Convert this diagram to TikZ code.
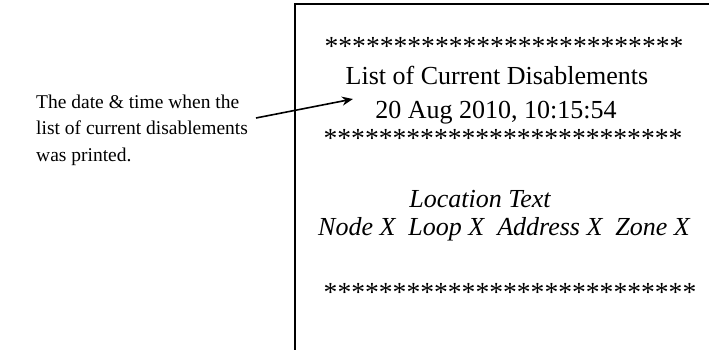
\documentclass[tikz,border=0pt]{standalone}
\usepackage{fontspec}
\setmainfont{Liberation Serif}
\usetikzlibrary{arrows.meta}
\tikzset{
  txt/.style={inner sep=0pt, anchor=base, font=\fontsize{26}{30}\selectfont},
  itxt/.style={txt, font=\fontsize{26}{30}\selectfont\itshape},
  stars/.style={inner sep=0pt, anchor=base, font=\fontsize{27.6}{30}\selectfont},
  note/.style={inner sep=0pt, anchor=base west, font=\fontsize{19.5}{22}\selectfont},
  frame/.style={line width=2.6pt, line cap=rect},
  pointer/.style={line width=1.6pt, -{Stealth[length=11pt,width=9pt]}}
}
\begin{document}
\begin{tikzpicture}[x=1pt,y=-1pt]
\useasboundingbox (0,0) rectangle (709,350);
% receipt edges
\coordinate (tl) at (295,4);
\coordinate (tr) at (712,4);
\coordinate (bl) at (295,352);
\draw[frame] (tr) -- (tl) -- (bl);
% receipt content
\node[stars] (s1) at (504,56) {**************************};
\node[txt] (title) at (497,85) {List of Current Disablements};
\node[txt] (date) at (496,118) {20 Aug 2010, 10:15:54};
\node[stars] (s2) at (503,147) {**************************};
\node[itxt] (loc) at (480,207) {Location Text};
\node[itxt] (addr) at (504,235) {Node X\ \ Loop X\ \ Address X\ \ Zone X};
\node[stars] (s3) at (510,301) {***************************};
% note
\node[note] (n1) at (36,109) {The date \& time when the};
\node[note] (n2) at (36,135) {list of current disablements};
\node[note] (n3) at (36,161) {was printed.};
\coordinate (from) at (256,118);
\coordinate (to) at (353,99);
\draw[pointer] (from) -- (to);
\end{tikzpicture}
\end{document}
